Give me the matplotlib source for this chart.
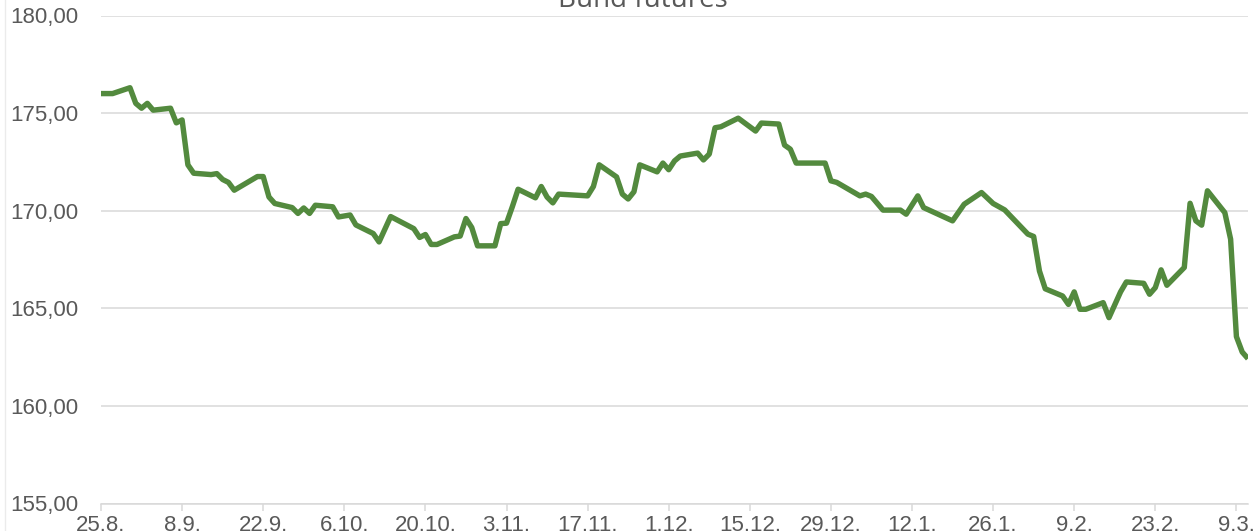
import matplotlib
matplotlib.use("Agg")
import matplotlib.pyplot as plt
import matplotlib.dates as mdates
import matplotlib.ticker as mticker
from matplotlib.lines import Line2D
import pandas as pd

# Data
dates = [
    "2021-08-25", "2021-08-27", "2021-08-30", "2021-08-31", "2021-09-01", "2021-09-02",
    "2021-09-03", "2021-09-06", "2021-09-07", "2021-09-08", "2021-09-09", "2021-09-10",
    "2021-09-13", "2021-09-14", "2021-09-15", "2021-09-16", "2021-09-17", "2021-09-21",
    "2021-09-22", "2021-09-23", "2021-09-24", "2021-09-27", "2021-09-28", "2021-09-29",
    "2021-09-30", "2021-10-01", "2021-10-04", "2021-10-05", "2021-10-07", "2021-10-08",
    "2021-10-11", "2021-10-12", "2021-10-14", "2021-10-18", "2021-10-19", "2021-10-20",
    "2021-10-21", "2021-10-22", "2021-10-25", "2021-10-26", "2021-10-27", "2021-10-28",
    "2021-10-29", "2021-11-01", "2021-11-02", "2021-11-03", "2021-11-04", "2021-11-05",
    "2021-11-08", "2021-11-09", "2021-11-10", "2021-11-11", "2021-11-12", "2021-11-17",
    "2021-11-18", "2021-11-19", "2021-11-22", "2021-11-23", "2021-11-24", "2021-11-25",
    "2021-11-26", "2021-11-29", "2021-11-30", "2021-12-01", "2021-12-02", "2021-12-03",
    "2021-12-06", "2021-12-07", "2021-12-08", "2021-12-09", "2021-12-10", "2021-12-13",
    "2021-12-16", "2021-12-17", "2021-12-20", "2021-12-21", "2021-12-22", "2021-12-23",
    "2021-12-28", "2021-12-29", "2021-12-30", "2022-01-03", "2022-01-04", "2022-01-05",
    "2022-01-07", "2022-01-10", "2022-01-11", "2022-01-13", "2022-01-14", "2022-01-19",
    "2022-01-21", "2022-01-24", "2022-01-26", "2022-01-28", "2022-02-01", "2022-02-02",
    "2022-02-03", "2022-02-04", "2022-02-07", "2022-02-08", "2022-02-09", "2022-02-10",
    "2022-02-11", "2022-02-14", "2022-02-15", "2022-02-17", "2022-02-18", "2022-02-21",
    "2022-02-22", "2022-02-23", "2022-02-24", "2022-02-25", "2022-02-28", "2022-03-01",
    "2022-03-02", "2022-03-03", "2022-03-04", "2022-03-07", "2022-03-08", "2022-03-09",
    "2022-03-10", "2022-03-11",
]
prices = [
    176.00, 176.00, 176.30, 175.50, 175.25, 175.50,
    175.15, 175.25, 174.50, 174.65, 172.35, 171.92,
    171.85, 171.90, 171.60, 171.45, 171.05, 171.75,
    171.75, 170.70, 170.37, 170.16, 169.86, 170.14,
    169.86, 170.28, 170.20, 169.68, 169.78, 169.27,
    168.83, 168.40, 169.70, 169.08, 168.63, 168.78,
    168.27, 168.27, 168.66, 168.70, 169.60, 169.14,
    168.20, 168.20, 169.34, 169.36, 170.20, 171.10,
    170.66, 171.24, 170.70, 170.40, 170.85, 170.76,
    171.24, 172.35, 171.73, 170.85, 170.60, 170.97,
    172.35, 171.99, 172.44, 172.10, 172.55, 172.80,
    172.95, 172.60, 172.90, 174.25, 174.30, 174.74,
    174.08, 174.49, 174.44, 173.36, 173.15, 172.44,
    172.44, 171.53, 171.45, 170.76, 170.85, 170.73,
    170.03, 170.03, 169.82, 170.76, 170.16, 169.48,
    170.33, 170.93, 170.37, 170.04, 168.80, 168.68,
    166.91, 166.00, 165.63, 165.20, 165.84, 164.95,
    164.95, 165.29, 164.52, 165.84, 166.35, 166.28,
    165.72, 166.06, 166.97, 166.18, 167.09, 170.38,
    169.48, 169.26, 171.02, 169.90, 168.54, 163.55,
    162.76, 162.42,
]
x_start = "2021-08-25"
x_end = "2022-03-11"
y_ticks = [155, 160, 165, 170, 175, 180]
title = "Bund futures"

# Plot
txt_col = "#595959"
grid_col = "#D9D9D9"

fig = plt.figure(figsize=(12.59, 5.31), dpi=100)
ax = fig.add_axes([101/1259, 27.5/531, 1147/1259, 488/531])

ax.plot(pd.to_datetime(dates), prices, color="#538A3E", lw=3.9,
        solid_joinstyle="round", solid_capstyle="butt", zorder=3)

ax.set_xlim(pd.Timestamp(x_start), pd.Timestamp(x_end))
ax.set_ylim(y_ticks[0], y_ticks[-1])
ax.set_yticks(y_ticks)
ax.yaxis.set_major_formatter(mticker.FuncFormatter(lambda v, p: f"{v:.2f}".replace(".", ",")))

# ticks every two weeks, labelled like "25.8."
tick_days = pd.date_range(x_start, x_end, freq="14D")
ax.xaxis.set_major_locator(mticker.FixedLocator(mdates.date2num(tick_days)))
ax.xaxis.set_major_formatter(mticker.FuncFormatter(
    lambda v, p: f"{mdates.num2date(v).day}.{mdates.num2date(v).month}."))

ax.grid(axis="y", color=grid_col, lw=1.1)
ax.set_axisbelow(True)
for s in ["top", "right", "left"]:
    ax.spines[s].set_visible(False)
ax.spines["bottom"].set_color(grid_col)
ax.spines["bottom"].set_linewidth(1.1)
ax.spines["bottom"].set_zorder(1)

ax.tick_params(axis="y", length=0, pad=16, labelsize=16, labelcolor=txt_col)
ax.tick_params(axis="x", length=5, width=1.1, color=grid_col, pad=3,
               labelsize=16, labelcolor=txt_col)
for lab in ax.get_xticklabels() + ax.get_yticklabels():
    lab.set_family("Liberation Sans")

fig.text(643/1259, 1 - 7/531, title, ha="center", va="baseline",
         fontsize=20, color=txt_col, family="Open Sans")

# faint chart border on the left
fig.add_artist(Line2D([5/1259, 5/1259], [0, 1], color="#EBEBEB", lw=1))

fig.savefig("out.png", dpi=100)
